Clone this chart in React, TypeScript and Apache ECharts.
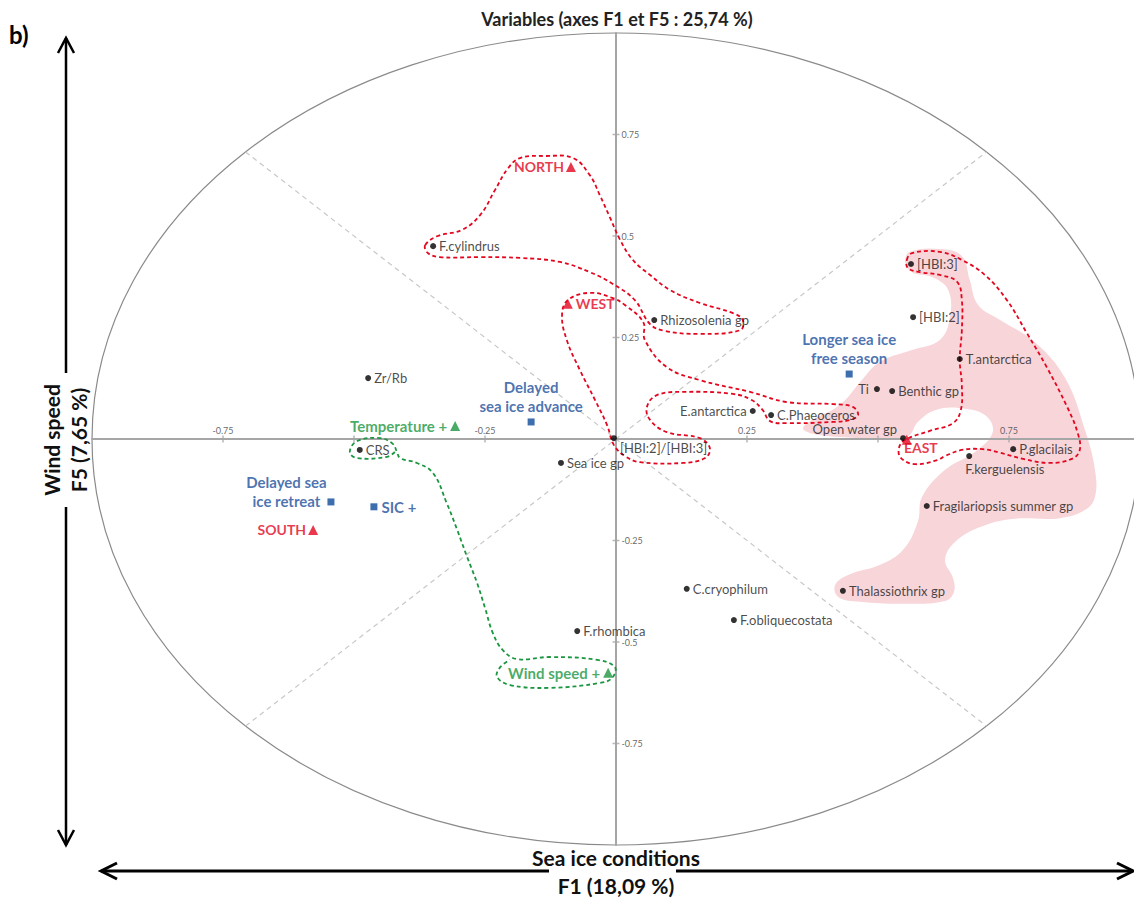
import React, { useEffect, useRef } from "react";
import * as echarts from "echarts";

// ---------- DATA ----------
const varNames = [
  "F.cylindrus", "Rhizosolenia gp", "[HBI:3]", "[HBI:2]", "T.antarctica", "Ti", "Benthic gp",
  "Open water gp", "P.glacilais", "F.kerguelensis", "Fragilariopsis summer gp", "Thalassiothrix gp",
  "C.cryophilum", "F.obliquecostata", "F.rhombica", "E.antarctica", "C.Phaeoceros",
  "[HBI:2]/[HBI:3]", "Sea ice gp", "CRS", "Zr/Rb",
];
const varF1 = [-0.349, 0.073, 0.563, 0.567, 0.656, 0.498, 0.527, 0.548, 0.758, 0.674, 0.593, 0.433, 0.135, 0.225, -0.074, 0.261, 0.296, -0.004, -0.105, -0.489, -0.473];
const varF5 = [0.475, 0.293, 0.431, 0.300, 0.197, 0.123, 0.118, 0.002, -0.025, -0.042, -0.165, -0.374, -0.369, -0.446, -0.473, 0.069, 0.059, 0.002, -0.059, -0.027, 0.150];

const seaIceNames = ["Delayed\nsea ice advance", "Longer sea ice\nfree season", "Delayed sea\nice retreat", "SIC +"];
const seaIceF1 = [-0.162, 0.445, -0.544, -0.462];
const seaIceF5 = [0.042, 0.160, -0.155, -0.167];

const regionNames = ["NORTH", "WEST", "EAST", "SOUTH"];
const regionF1 = [-0.086, -0.092, 0.555, -0.578];
const regionF5 = [0.670, 0.333, -0.002, -0.224];

const forcingNames = ["Temperature +", "Wind speed +"];
const forcingF1 = [-0.307, -0.015];
const forcingF5 = [0.032, -0.576];

const tickValues = [-0.75, -0.5, -0.25, 0.25, 0.5, 0.75];
const xTickLabels = [-0.75, -0.25, 0.25, 0.75];
const yTickLabels = [-0.75, -0.5, -0.25, 0.25, 0.5, 0.75];

const diagonalA = [[-0.707, 0.707], [0.707, -0.707]];
const diagonalB = [[-0.707, -0.707], [0.707, 0.707]];

// hand-drawn group outlines (in F1/F5 coordinates)
const northOutline = [
  [-0.364, 0.478], [-0.340, 0.500], [-0.294, 0.515], [-0.259, 0.552], [-0.231, 0.613], [-0.206, 0.667],
  [-0.183, 0.692], [-0.135, 0.697], [-0.082, 0.692], [-0.050, 0.650], [-0.031, 0.601], [-0.011, 0.544],
  [0.008, 0.490], [0.032, 0.441], [0.065, 0.404], [0.103, 0.367], [0.160, 0.335], [0.223, 0.310],
  [0.242, 0.293], [0.237, 0.268], [0.160, 0.259], [0.094, 0.266], [0.065, 0.283], [0.036, 0.342],
  [-0.006, 0.382], [-0.050, 0.411], [-0.107, 0.436], [-0.183, 0.446], [-0.259, 0.448], [-0.336, 0.448],
  [-0.359, 0.458],
];
const westOutline = [
  [0.052, 0.288], [0.055, 0.244], [0.097, 0.177], [0.160, 0.145], [0.256, 0.116], [0.326, 0.091],
  [0.414, 0.086], [0.452, 0.079], [0.462, 0.059], [0.447, 0.047], [0.414, 0.042], [0.326, 0.039],
  [0.294, 0.044], [0.280, 0.071], [0.259, 0.096], [0.223, 0.111], [0.128, 0.116], [0.078, 0.108],
  [0.059, 0.079], [0.065, 0.047], [0.097, 0.017], [0.160, 0.002], [0.179, -0.022], [0.170, -0.047],
  [0.128, -0.059], [0.046, -0.057], [0.017, -0.042], [-0.004, -0.015], [-0.017, 0.034], [-0.040, 0.096],
  [-0.069, 0.170], [-0.094, 0.244], [-0.103, 0.305], [-0.092, 0.342], [-0.050, 0.360], [-0.006, 0.347],
  [0.017, 0.330],
];
const eastOutline = [
  [0.555, 0.441], [0.565, 0.458], [0.618, 0.461], [0.660, 0.441], [0.704, 0.404], [0.746, 0.342],
  [0.784, 0.261], [0.822, 0.177], [0.861, 0.079], [0.881, 0.015], [0.885, -0.027], [0.870, -0.049],
  [0.828, -0.059], [0.777, -0.049], [0.733, -0.034], [0.700, -0.025], [0.660, -0.027], [0.628, -0.042],
  [0.613, -0.052], [0.571, -0.062], [0.544, -0.047], [0.540, -0.022], [0.552, -0.002], [0.599, 0.020],
  [0.643, 0.039], [0.658, 0.071], [0.660, 0.133], [0.656, 0.195], [0.660, 0.268], [0.660, 0.342],
  [0.651, 0.387], [0.618, 0.404], [0.580, 0.411], [0.557, 0.421],
];
const eastArea = [
  [0.561, 0.461], [0.618, 0.468], [0.660, 0.451], [0.675, 0.392], [0.691, 0.330], [0.733, 0.293],
  [0.799, 0.239], [0.857, 0.150], [0.895, 0.022], [0.914, -0.076], [0.914, -0.143], [0.895, -0.175],
  [0.847, -0.195], [0.756, -0.197], [0.695, -0.217], [0.647, -0.254], [0.628, -0.298], [0.643, -0.342],
  [0.645, -0.377], [0.628, -0.399], [0.551, -0.406], [0.466, -0.401], [0.424, -0.389], [0.418, -0.360],
  [0.443, -0.335], [0.504, -0.310], [0.548, -0.273], [0.576, -0.204], [0.584, -0.143], [0.628, -0.076],
  [0.685, -0.032], [0.719, 0.017], [0.704, 0.059], [0.656, 0.076], [0.609, 0.071], [0.576, 0.042],
  [0.557, 0.007], [0.504, 0.002], [0.427, 0.005], [0.370, 0.015], [0.357, 0.027], [0.374, 0.047],
  [0.427, 0.084], [0.469, 0.145], [0.504, 0.190], [0.565, 0.219], [0.618, 0.244], [0.637, 0.298],
  [0.634, 0.367], [0.603, 0.399], [0.565, 0.411], [0.552, 0.436],
];
const forcingOutline = [
  [-0.422, -0.032], [-0.437, -0.044], [-0.494, -0.047], [-0.508, -0.032], [-0.494, -0.005], [-0.450, 0.002],
  [-0.426, -0.012], [-0.418, -0.032], [-0.412, -0.047], [-0.380, -0.059], [-0.349, -0.084], [-0.323, -0.158],
  [-0.303, -0.224], [-0.284, -0.291], [-0.265, -0.355], [-0.250, -0.416], [-0.235, -0.478], [-0.216, -0.520],
  [-0.189, -0.542], [-0.126, -0.537], [-0.036, -0.544], [-0.002, -0.562], [-0.008, -0.589], [-0.031, -0.601],
  [-0.126, -0.613], [-0.202, -0.606], [-0.227, -0.586], [-0.221, -0.562], [-0.202, -0.544],
];

// ---------- STYLE ----------
const FONT = 'Lato, "Noto Sans", sans-serif';
const RED = "#e3061f";
const BLUE = "#1c4f9c";
const GREEN = "#1b9640";
const AXIS = "#a6a6a6";

const varLabel: Record<string, any> = {
  Ti: { position: "left", distance: 5 },
  "Open water gp": { position: "left", distance: 3, offset: [0, -9] },
  "F.kerguelensis": { position: "bottom", align: "left", distance: 3, offset: [-4, 0] },
  "E.antarctica": { position: "left", distance: 3 },
  "[HBI:2]/[HBI:3]": { position: "right", distance: 3, offset: [0, 10] },
};
const seaIceLabel: Record<string, any> = {
  "Delayed\nsea ice advance": { position: "top", distance: 3 },
  "Longer sea ice\nfree season": { position: "top", distance: 3 },
  "Delayed sea\nice retreat": { position: "left", align: "center", offset: [-36, -10] },
  "SIC +": { position: "right", distance: 4 },
};
const regionLabel: Record<string, any> = {
  NORTH: { position: "left", distance: 2 },
  WEST: { position: "right", distance: 3 },
  EAST: { position: "bottom", distance: 0, offset: [14, -4] },
  SOUTH: { position: "left", distance: 2 },
};

function shapeSeries(points: number[][], closed: boolean, style: any, z: number) {
  return {
    type: "custom",
    coordinateSystem: "cartesian2d",
    data: points,
    silent: true,
    clip: false,
    z,
    renderItem: (params: any, api: any) => {
      if (params.dataIndex !== 0) return null;
      const pts = points.map((p) => api.coord(p));
      return {
        type: closed ? "polygon" : "polyline",
        shape: { points: pts, smooth: 0.4 },
        style,
      };
    },
  };
}

const redDash = { fill: "none", stroke: RED, lineWidth: 1.8, lineDash: [4, 3] };
const greenDash = { fill: "none", stroke: GREEN, lineWidth: 1.8, lineDash: [4, 3] };

function buildOption() {
  const varData = varNames.map((n, i) => ({
    name: n,
    value: [varF1[i], varF5[i]],
    label: { show: true, formatter: n, ...(varLabel[n] || { position: "right", distance: 3 }) },
  }));
  const seaIceData = seaIceNames.map((n, i) => ({
    name: n,
    value: [seaIceF1[i], seaIceF5[i]],
    label: { show: true, formatter: n, ...seaIceLabel[n] },
  }));
  const regionData = regionNames.map((n, i) => ({
    name: n,
    value: [regionF1[i], regionF5[i]],
    label: { show: true, formatter: n, ...regionLabel[n] },
  }));
  const forcingData = forcingNames.map((n, i) => ({
    name: n,
    value: [forcingF1[i], forcingF5[i]],
    label: { show: true, formatter: n, position: "left", distance: 3 },
  }));

  const arrow = { stroke: "#000", lineWidth: 2.5, fill: "none" };
  const hArrow = { stroke: "#000", lineWidth: 3, fill: "none" };
  const bold = (size: number) => ({ fontFamily: FONT, fontWeight: "bold", fontSize: size, fill: "#222" });
  const tickLabelStyle = { show: true, color: "#404040", fontSize: 9, fontFamily: FONT };

  return {
    animation: false,
    backgroundColor: "#fff",
    textStyle: { fontFamily: FONT },
    grid: { left: 92, right: -6, top: 33, bottom: 53, containLabel: false, outerBoundsMode: "none" },
    xAxis: {
      type: "value", min: -1, max: 1, interval: 0.25, z: 1,
      axisLine: { onZero: true, lineStyle: { color: AXIS, width: 2 } },
      axisTick: { show: false },
      axisLabel: { show: false },
      splitLine: { show: false },
    },
    yAxis: {
      type: "value", min: -1, max: 1, interval: 0.25, z: 1,
      axisLine: { onZero: true, lineStyle: { color: AXIS, width: 2 } },
      axisTick: { show: false },
      axisLabel: { show: false },
      splitLine: { show: false },
    },
    graphic: [
      { type: "text", left: 9, top: 22, style: { text: "b)", ...bold(24), fill: "#000" } },
      { type: "text", x: 617, y: 19, style: { text: "Variables (axes F1 et F5 : 25,74 %)", ...bold(18), align: "center", verticalAlign: "middle" } },
      // vertical arrow
      { type: "line", shape: { x1: 66, y1: 38, x2: 66, y2: 373 }, style: arrow },
      { type: "line", shape: { x1: 66, y1: 507, x2: 66, y2: 845 }, style: arrow },
      { type: "polyline", shape: { points: [[58, 53], [66, 38], [74, 53]] }, style: arrow },
      { type: "polyline", shape: { points: [[58, 830], [66, 845], [74, 830]] }, style: arrow },
      { type: "text", x: 51, y: 440, rotation: Math.PI / 2, style: { text: "Wind speed", ...bold(21), fill: "#111", align: "center", verticalAlign: "middle" } },
      { type: "text", x: 78, y: 440, rotation: Math.PI / 2, style: { text: "F5 (7,65 %)", ...bold(21), fill: "#111", align: "center", verticalAlign: "middle" } },
      // horizontal arrow
      { type: "line", shape: { x1: 101, y1: 871, x2: 549, y2: 871 }, style: hArrow },
      { type: "line", shape: { x1: 676, y1: 871, x2: 1133, y2: 871 }, style: hArrow },
      { type: "polyline", shape: { points: [[117, 863], [101, 871], [117, 879]] }, style: hArrow },
      { type: "polyline", shape: { points: [[1117, 863], [1133, 871], [1117, 879]] }, style: hArrow },
      { type: "text", x: 616, y: 857, style: { text: "Sea ice conditions", ...bold(21), fill: "#111", align: "center", verticalAlign: "middle" } },
      { type: "text", x: 616, y: 885, style: { text: "F1 (18,09 %)", ...bold(21), fill: "#111", align: "center", verticalAlign: "middle" } },
    ],
    series: [
      shapeSeries(eastArea, true, { fill: "#f7d5d9", stroke: "none" }, 0),
      {
        type: "custom",
        coordinateSystem: "cartesian2d",
        data: [[0, 0]],
        silent: true,
        clip: false,
        z: 0,
        renderItem: (params: any, api: any) => {
          const c = api.coord([0, 0]);
          const s = api.size([1, 1]);
          return { type: "ellipse", shape: { cx: c[0], cy: c[1], rx: s[0], ry: s[1] }, style: { fill: "none", stroke: "#8a8a8a", lineWidth: 1.2 } };
        },
      },
      { type: "line", data: diagonalA, symbol: "none", silent: true, z: 0, lineStyle: { color: "#c8c8c8", width: 1.2, type: [5, 4] } },
      { type: "line", data: diagonalB, symbol: "none", silent: true, z: 0, lineStyle: { color: "#c8c8c8", width: 1.2, type: [5, 4] } },
      // axis ticks (crossing the axes) and tick labels
      {
        type: "scatter", silent: true, z: 2, symbol: "rect", symbolSize: [1.5, 7],
        itemStyle: { color: AXIS },
        data: tickValues.map((v) => ({
          value: [v, 0],
          label: xTickLabels.includes(v) ? { ...tickLabelStyle, position: "top", distance: 1, formatter: String(v) } : { show: false },
        })),
      },
      {
        type: "scatter", silent: true, z: 2, symbol: "rect", symbolSize: [7, 1.5],
        itemStyle: { color: AXIS },
        data: tickValues.map((v) => ({
          value: [0, v],
          label: yTickLabels.includes(v) ? { ...tickLabelStyle, position: "right", distance: 2, formatter: String(v) } : { show: false },
        })),
      },
      shapeSeries(northOutline, true, redDash, 3),
      shapeSeries(westOutline, true, redDash, 3),
      shapeSeries(eastOutline, true, redDash, 3),
      shapeSeries(forcingOutline, false, greenDash, 3),
      {
        type: "scatter", data: varData, symbol: "circle", symbolSize: 6, z: 5,
        itemStyle: { color: "#000" }, emphasis: { disabled: true },
        label: { color: "#1a1a1a", fontSize: 13, fontFamily: FONT },
      },
      {
        type: "scatter", data: seaIceData, symbol: "rect", symbolSize: 7, z: 5,
        itemStyle: { color: "#0d4a9a" }, emphasis: { disabled: true },
        label: { color: BLUE, fontSize: 15, fontWeight: "bold", fontFamily: FONT, lineHeight: 19 },
      },
      {
        type: "scatter", data: regionData, symbol: "triangle", symbolSize: 10, z: 5,
        itemStyle: { color: RED }, emphasis: { disabled: true },
        label: { color: RED, fontSize: 14, fontWeight: "bold", fontFamily: FONT },
      },
      {
        type: "scatter", data: forcingData, symbol: "triangle", symbolSize: 10, z: 5,
        itemStyle: { color: GREEN }, emphasis: { disabled: true },
        label: { color: GREEN, fontSize: 15, fontWeight: "bold", fontFamily: FONT },
      },
    ],
  };
}

export default function App() {
  const ref = useRef<HTMLDivElement>(null);
  useEffect(() => {
    if (!ref.current) return;
    const chart = echarts.init(ref.current, null, { renderer: "svg" });
    chart.setOption(buildOption() as any);
    return () => chart.dispose();
  }, []);
  return (
    <div
      ref={ref}
      style={{ position: "fixed", left: 0, top: 0, width: 1134, height: 898, background: "#fff" }}
    />
  );
}
